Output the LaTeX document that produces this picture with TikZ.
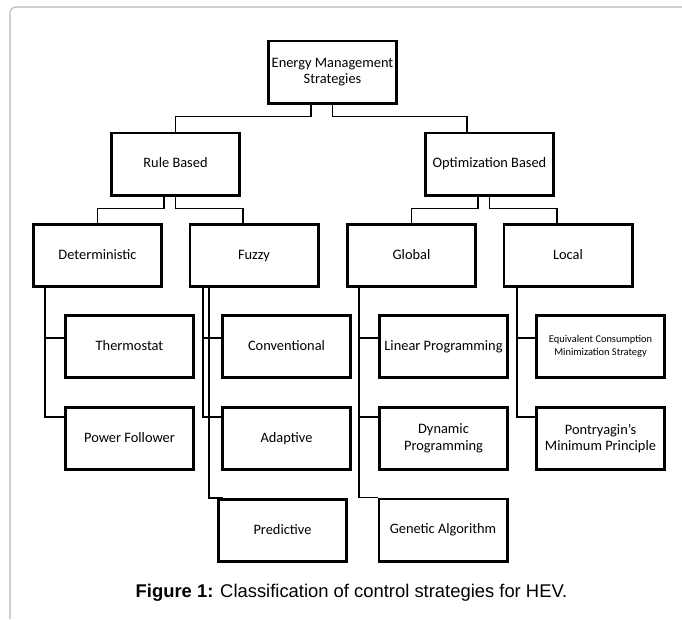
\documentclass[tikz,border=0pt]{standalone}
\usepackage{fontspec}
\setmainfont{Carlito}
\newfontfamily\capfont{Liberation Sans}

\begin{document}
\begin{tikzpicture}[x=1pt,y=-1pt,
	box/.style={draw,line width=2.6pt,minimum width=128.4pt,minimum height=62.4pt,inner sep=0pt,font=\fontsize{14.4}{16.5}\selectfont,text height=10.5pt,text depth=3.2pt},
	twobox/.style={box,align=center,text height=,text depth=},
	link/.style={line width=1.8pt}]
		\useasboundingbox (0,0) rectangle (682,619);
		\draw[color=gray!55,line width=1.1pt,rounded corners=6pt] (10,619) |- (682,7);
		\node[twobox] (root) at (332.5,72) {Energy Management\\Strategies};
		\node[box] (rule) at (175.5,164) {Rule Based};
		\node[box] (opt) at (489.5,164) {Optimization Based};
		\node[box] (det) at (97.5,255.5) {Deterministic};
		\node[box] (fuz) at (254,255.5) {Fuzzy};
		\node[box] (glo) at (411.5,255.5) {Global};
		\node[box] (loc) at (568,255.5) {Local};
		\node[box] (therm) at (129.5,346.5) {Thermostat};
		\node[box] (conv) at (286.5,346.5) {Conventional};
		\node[box] (lp) at (443.5,346.5) {Linear Programming};
		\node[twobox,font=\fontsize{10.4}{12.5}\selectfont] (ecms) at (600.5,346.5) {Equivalent Consumption\\Minimization Strategy};
		\node[box] (pf) at (129.5,438.5) {Power Follower};
		\node[box] (adap) at (286.5,438.5) {Adaptive};
		\node[twobox] (dp) at (443.5,438.5) {Dynamic\\Programming};
		\node[twobox] (pmp) at (600.5,438.5) {Pontryagin’s\\Minimum Principle};
		\node[box] (pred) at (282.5,530.5) {Predictive};
		\node[box] (ga) at (443,530) {Genetic Algorithm};
		\node[anchor=base,font=\capfont\fontsize{18.4}{22}\selectfont] (cap) at (351.5,597) {\textbf{Figure 1:} Classification of control strategies for HEV.};
		\draw[link] ([xshift=-21.5pt]root.south) -- ++(0,12) -| (rule.north);
		\draw[link] (root.south) -- ++(0,12) -| ([xshift=-22.5pt]opt.north);
		\draw[link] ([xshift=-11.5pt]rule.south) -- ++(0,12) -| (det.north);
		\draw[link] (rule.south) -- ++(0,12) -| ([xshift=-11pt]fuz.north);
		\draw[link] ([xshift=-11.5pt]opt.south) -- ++(0,12) -| (glo.north);
		\draw[link] (opt.south) -- ++(0,12) -| ([xshift=-11pt]loc.north);
		\draw[link] ([xshift=-52.5pt]det.south) |- ([yshift=8.5pt]therm.west);
		\draw[link] ([xshift=-52.5pt]det.south) |- ([yshift=21.5pt]pf.west);
		\draw[link] ([xshift=-51pt]fuz.south) |- ([yshift=8.5pt]conv.west);
		\draw[link] ([xshift=-51pt]fuz.south) |- ([yshift=21.5pt]adap.west);
		\draw[link] ([xshift=-45pt]fuz.south) |- ([xshift=6pt]pred.north west);
		\draw[link] ([xshift=-52.5pt]glo.south) |- ([yshift=8.5pt]lp.west);
		\draw[link] ([xshift=-52.5pt]glo.south) |- ([yshift=21.5pt]dp.west);
		\draw[link] ([xshift=-52.5pt]glo.south) |- (ga.north west);
		\draw[link] ([xshift=-51pt]loc.south) |- ([yshift=8.5pt]ecms.west);
		\draw[link] ([xshift=-51pt]loc.south) |- ([yshift=21.5pt]pmp.west);
	\end{tikzpicture}
\end{document}
